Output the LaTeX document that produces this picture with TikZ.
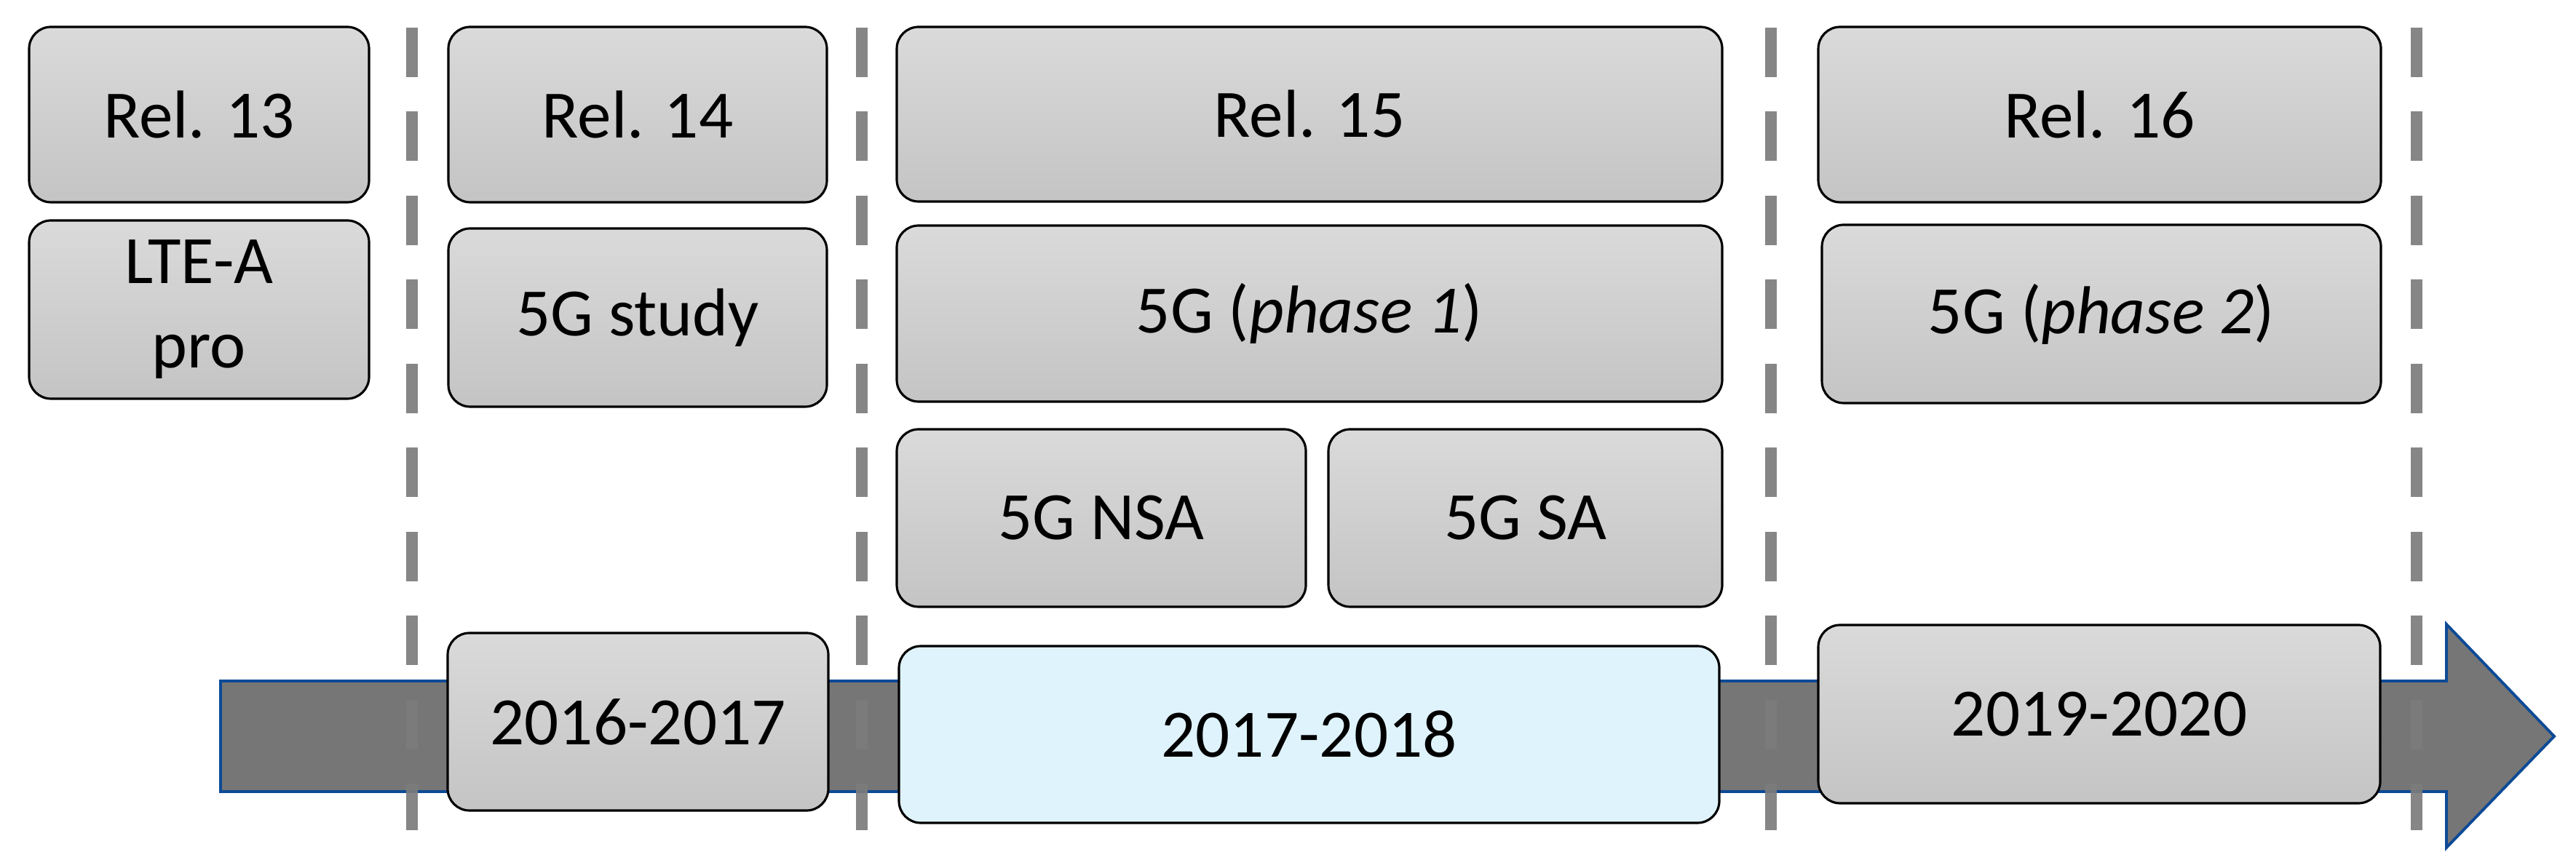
\documentclass[tikz,border=0pt]{standalone}
\usepackage{fontspec}
\setmainfont{Carlito}

\definecolor{boxtop}{RGB}{218,218,218}
\definecolor{boxbot}{RGB}{196,196,196}
\definecolor{yearblue}{RGB}{223,243,253}
\definecolor{bandgray}{RGB}{118,118,118}
\definecolor{bandline}{RGB}{12,74,150}
\definecolor{sepgray}{RGB}{124,124,124}

\begin{document}
\begin{tikzpicture}[
    font=\fontsize{26.5}{33}\selectfont,
    relbox/.style={draw=black, line width=0.9pt, rounded corners=0.3cm,
        top color=boxtop, bottom color=boxbot, align=center, inner sep=0pt},
    yearbox/.style={relbox, top color=yearblue, bottom color=yearblue},
    sepline/.style={sepgray, opacity=0.92, line width=4.3pt,
        dash pattern=on 0.68cm off 0.475cm}
    ]
    \useasboundingbox (0,0) rectangle (35.39,11.92);

    % time arrow
    \filldraw[fill=bandgray, draw=bandline, line width=1.1pt]
        (3.03,2.56) -- (33.61,2.56) -- (33.61,3.34) -- (35.09,1.80)
        -- (33.61,0.27) -- (33.61,1.04) -- (3.03,1.04) -- cycle;

    % separators
    \foreach \x in {5.66, 11.84, 24.33, 33.20}
        \draw[sepline] (\x,11.54) -- (\x,0.51);

    % releases
    \node[relbox, minimum width=4.67cm, minimum height=2.41cm] (rel13) at (2.735,10.345) {Rel. 13};
    \node[relbox, minimum width=4.67cm, minimum height=2.45cm] (lte) at (2.735,7.665) {LTE-A\\pro};

    \node[relbox, minimum width=5.20cm, minimum height=2.41cm] (rel14) at (8.76,10.345) {Rel. 14};
    \node[relbox, minimum width=5.20cm, minimum height=2.45cm] (study) at (8.76,7.555) {5G study};
    \node[relbox, minimum width=5.23cm, minimum height=2.44cm] (y1617) at (8.765,2.00) {2016-2017};

    \node[relbox, minimum width=11.34cm, minimum height=2.40cm] (rel15) at (17.99,10.35) {Rel. 15};
    \node[relbox, minimum width=11.34cm, minimum height=2.42cm] (phase1) at (17.99,7.61) {5G (\textit{phase 1})};
    \node[relbox, minimum width=5.62cm, minimum height=2.44cm] (nsa) at (15.13,4.80) {5G NSA};
    \node[relbox, minimum width=5.41cm, minimum height=2.44cm] (sa) at (20.955,4.80) {5G SA};
    \node[yearbox, minimum width=11.27cm, minimum height=2.43cm] (y1718) at (17.985,1.825) {2017-2018};

    \node[relbox, minimum width=7.73cm, minimum height=2.41cm] (rel16) at (28.845,10.345) {Rel. 16};
    \node[relbox, minimum width=7.68cm, minimum height=2.45cm] (phase2) at (28.87,7.605) {5G (\textit{phase 2})};
    \node[relbox, minimum width=7.72cm, minimum height=2.45cm] (y1920) at (28.84,2.105) {2019-2020};
\end{tikzpicture}
\end{document}
